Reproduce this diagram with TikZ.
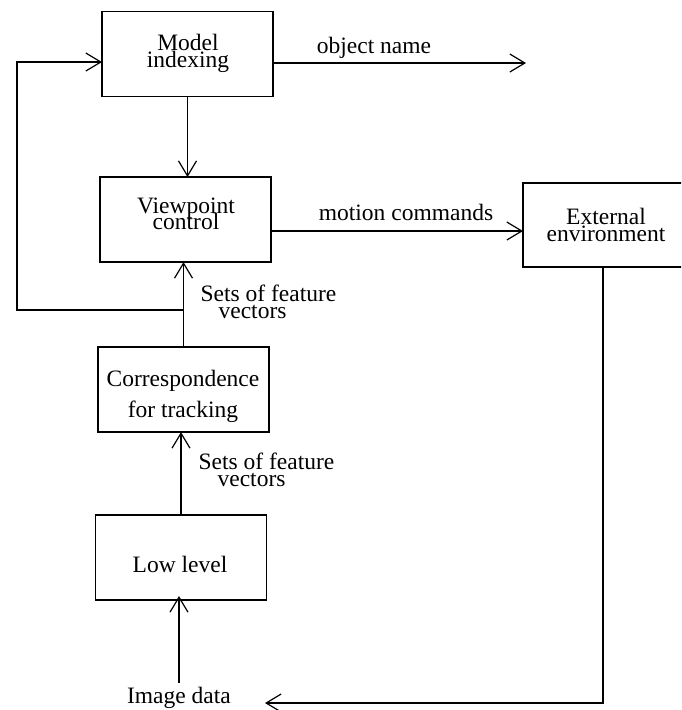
\documentclass[tikz,border=0pt]{standalone}
\usepackage{fontspec}
\setmainfont{Liberation Serif}
\usetikzlibrary{arrows.meta}
\begin{document}
\begin{tikzpicture}[x=1pt,y=-1pt,
  line width=1.2pt,
  box/.style={draw, inner sep=0pt, outer sep=0pt, minimum width=171pt, minimum height=85pt},
  txt/.style={inner sep=0pt, align=center, font={\fontsize{23.5}{28}\selectfont\lineskiplimit=-50pt}},
  lbl/.style={inner sep=0pt, align=left, font={\fontsize{23.5}{17}\selectfont\lineskiplimit=-50pt}},
  arr/.style={-{Straight Barb[length=15pt,width=18pt]}}]
\useasboundingbox (0,0) rectangle (681,710);
\fill[white] (0,0) rectangle (681,710);
\clip (0,0) rectangle (681,710);
% boxes
\node[box] (model) at (187.5,54) {};
\node[box] (view) at (185.5,219.5) {};
\node[box] (corr) at (183.5,389.5) {};
\node[box] (low) at (181,557.5) {};
\node[box, minimum width=167pt, minimum height=84pt] (ext) at (606.5,225) {};
% box texts
\node[txt, font={\fontsize{23.5}{17.5}\selectfont\lineskiplimit=-50pt}] (modelt) at (188,53.5) {Model\\indexing};
\node[txt, font={\fontsize{23.5}{16}\selectfont\lineskiplimit=-50pt}] (viewt) at (186,214) {Viewpoint\\control};
\node[txt, font={\fontsize{23.5}{31}\selectfont\lineskiplimit=-50pt}] (corrt) at (183,396) {Correspondence\\for tracking};
\node[txt, font={\fontsize{23.5}{17.5}\selectfont\lineskiplimit=-50pt}] (extt) at (606,225) {External\\environment};
\node[txt, anchor=base] (lowt) at (180,572) {Low level};
% labels
\node[txt, anchor=base] (objname) at (374,53) {object name};
\node[txt, anchor=base] (motion) at (406,220) {motion commands};
\node[lbl, anchor=west] (sets1) at (200,302) {Sets of feature\\\hspace*{18pt}vectors};
\node[lbl, anchor=west] (sets2) at (198,470) {Sets of feature\\\hspace*{19pt}vectors};
\node[txt, anchor=base, inner sep=0pt] (img) at (179,703.5) {Image data};
% coordinates
\coordinate (objend) at (526,63);
\coordinate (branch) at (183.5,310);
\coordinate (lb) at (17,310);
\coordinate (lt) at (17,62);
\coordinate (retx) at (603,703);
\coordinate (imgin) at (265,703);
% connectors
\draw[arr] (model.south) -- (model.south |- view.north);
\draw[arr] ([yshift=-9pt]model.east) -- (objend);
\draw[arr] ([yshift=-11.5pt]view.east) -- ([yshift=-11.5pt]view.east -| ext.west);
\draw[arr] (corr.north) -- (corr.north |- view.south);
\draw[arr] (branch) -- (lb) -- (lt) -- (lt -| model.west);
\draw[arr] (low.north) -- (low.north |- corr.south);
\draw[arr] ([yshift=4pt]img.north) -- ([yshift=4pt]img.north |- low.south);
\draw[arr] (retx |- ext.south) -- (retx) -- (imgin);
\end{tikzpicture}
\end{document}
